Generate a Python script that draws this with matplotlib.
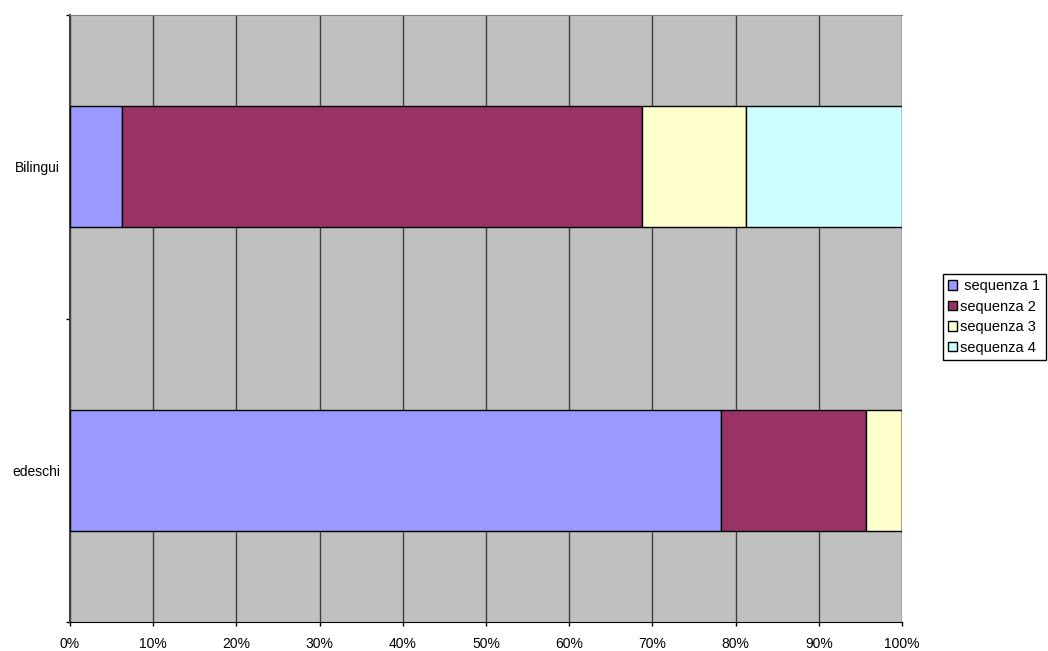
import matplotlib.pyplot as plt
import numpy as np
from matplotlib.ticker import PercentFormatter

plt.rcParams['font.family'] = ['Liberation Sans', 'DejaVu Sans']

# dati (percentuali per riga)
categorie = ['edeschi', 'Bilingui']
serie = [' sequenza 1', 'sequenza 2', 'sequenza 3', 'sequenza 4']
seq1 = [78.26, 6.25]
seq2 = [17.39, 62.5]
seq3 = [4.35, 12.5]
seq4 = [0.0, 18.75]
colori = ['#9999FF', '#993366', '#FFFFCC', '#CCFFFF']

fig = plt.figure(figsize=(10.48, 6.51), dpi=100)
ax = fig.add_axes([70 / 1048, 29 / 651, 832 / 1048, 607 / 651])
ax.set_facecolor('#C0C0C0')

y = np.arange(len(categorie))
left = np.zeros(len(categorie))
for nome, vals, col in zip(serie, [seq1, seq2, seq3, seq4], colori):
    vals = np.array(vals)
    ax.barh(y, vals, left=left, height=0.4, color=col, edgecolor='black',
            linewidth=1, label=nome, zorder=3)
    left += vals

ax.set_xlim(0, 100)
ax.set_ylim(-0.5, 1.5)
ax.set_xticks(np.arange(0, 101, 10))
ax.xaxis.set_major_formatter(PercentFormatter(decimals=0))
ax.grid(axis='x', color='#404040', linewidth=1, zorder=1)
ax.set_axisbelow(True)

ax.set_yticks(y)
ax.set_yticklabels(categorie)
ax.set_yticks([-0.5, 0.5, 1.5], minor=True)
ax.tick_params(axis='y', which='major', length=0, pad=7, labelsize=10)
ax.tick_params(axis='y', which='minor', length=3, width=1, color='black', direction='out')
ax.tick_params(axis='x', length=3, width=1, color='black', pad=8, labelsize=10)

ax.spines['right'].set_visible(False)
ax.spines['top'].set_color('#808080')
ax.spines['left'].set_color('#404040')
ax.spines['left'].set_linewidth(1.5)
ax.spines['bottom'].set_color('black')

leg = ax.legend(loc='upper left', bbox_to_anchor=(943 / 1048, 1 - 274 / 651),
                bbox_transform=fig.transFigure, borderaxespad=0, fancybox=False,
                edgecolor='black', framealpha=1, fontsize=10.5,
                handlelength=0.6, handleheight=0.6, handletextpad=0.25,
                labelspacing=0.45, borderpad=0.35)
leg.get_frame().set_linewidth(1)

fig.savefig('out.png', dpi=100)
